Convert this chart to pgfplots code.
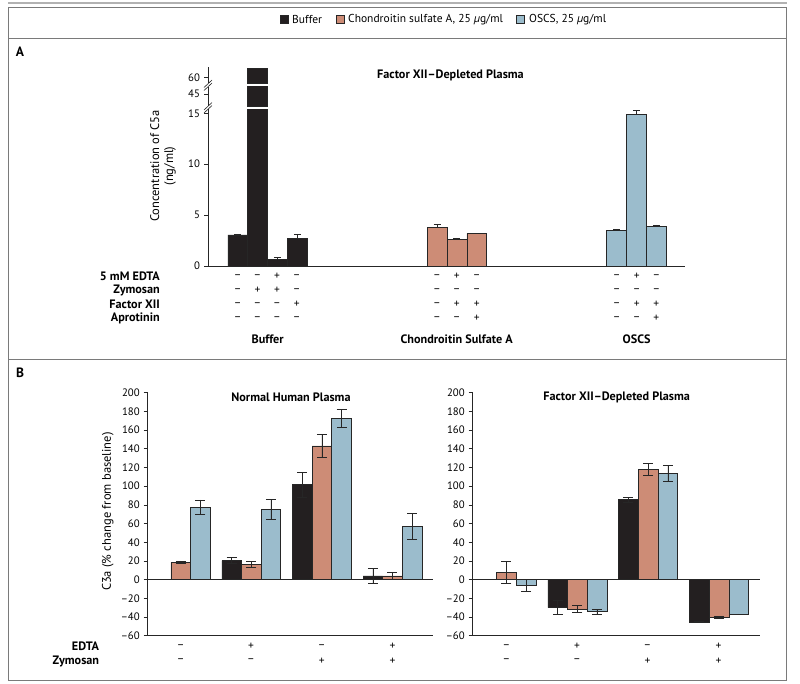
\documentclass[border=0pt]{standalone}
\usepackage{pgfplots}
\pgfplotsset{compat=1.18}
\usepackage{fontspec}
\setmainfont{PT Sans}
\definecolor{bufc}{HTML}{231F20}
\definecolor{csac}{HTML}{CD8C76}
\definecolor{oscc}{HTML}{9BBCCC}
\definecolor{framec}{HTML}{7A7A7A}
\newcommand\fs{\fontsize{11.5}{13.5}\selectfont}
\newcommand\fy{\fontsize{12.5}{14}\selectfont}
\newcommand\fb{\fontsize{12.2}{14}\selectfont\bfseries}
\pgfplotsset{
  myax/.style={scale only axis, anchor=south west,
    axis y line*=left, axis x line*=bottom, xtick=\empty, ytick pos=left,
    tick align=outside, major tick length=4pt,
    /pgf/number format/assume math mode=true,
    yticklabel style={font=\fontsize{10.8}{12}\selectfont, black, xshift=-0.5pt},
    axis line style={line width=0.6pt, black!85},
    major tick style={line width=0.6pt, black!85},
    every axis plot/.append style={draw=black!85, line width=0.5pt},
  },
  errA/.style={error bars/.cd, y dir=plus, y explicit,
    error bar style={line width=0.6pt, black!85},
    error mark options={rotate=90, mark size=3.5pt, line width=0.6pt, black!85}},
  errB/.style={error bars/.cd, y dir=both, y explicit,
    error bar style={line width=0.6pt, black!85},
    error mark options={rotate=90, mark size=5pt, line width=0.6pt, black!85}},
}
\begin{document}
\begin{tikzpicture}
\useasboundingbox (0,0) rectangle (800pt,-683pt);
% ---------------- Panel A: lower segment ----------------
\begin{axis}[myax, at={(208pt,-266pt)}, width=477pt, height=157pt,
  xmin=0, xmax=24.05, ymin=0, ymax=15.42, ytick={0,5,10,15}]
\addplot[ybar, bar shift=0pt, bar width=1, fill=bufc, errA] coordinates {
  (1.5,3.05) +- (0,0.08) (2.5,60.9) +- (0,0) (3.5,0.66) +- (0,0.16) (4.5,2.72) +- (0,0.35)};
\addplot[ybar, bar shift=0pt, bar width=1, fill=csac, errA] coordinates {
  (11.55,3.8) +- (0,0.3) (12.55,2.65) +- (0,0.12) (13.55,3.2) +- (0,0.03)};
\addplot[ybar, bar shift=0pt, bar width=1, fill=oscc, errA] coordinates {
  (20.6,3.5) +- (0,0.08) (21.6,14.87) +- (0,0.4) (22.6,3.92) +- (0,0.12)};
\end{axis}
% ---------------- Panel A: middle segment ----------------
\begin{axis}[myax, axis x line=none, at={(208pt,-106pt)}, width=477pt, height=19.3pt,
  xmin=0, xmax=24.05, ymin=43.82, ymax=45.72, ytick={45}]
\addplot[ybar, bar shift=0pt, bar width=1, fill=bufc] coordinates {(2.5,60.9)};
\end{axis}
% ---------------- Panel A: top segment ----------------
\begin{axis}[myax, axis x line=none, at={(208pt,-83.3pt)}, width=477pt, height=16.6pt,
  xmin=0, xmax=24.05, ymin=59.41, ymax=61.04, ytick={60}]
\addplot[ybar, bar shift=0pt, bar width=1, fill=bufc] coordinates {(2.5,60.9)};
\end{axis}
% break marks
\draw[black!85, line width=0.6pt] (204pt,-110pt) -- (212pt,-102.5pt);
\draw[black!85, line width=0.6pt] (204pt,-113pt) -- (212pt,-105.5pt);
\draw[black!85, line width=0.6pt] (204pt,-87.5pt) -- (212pt,-80pt);
\draw[black!85, line width=0.6pt] (204pt,-90.5pt) -- (212pt,-83pt);

% ---------------- Panel B: Normal Human Plasma ----------------
\begin{axis}[myax, at={(147.7pt,-635.7pt)}, width=285.3pt, height=243pt,
  xmin=-0.467, xmax=3.574, ymin=-60, ymax=200, ytick={-60,-40,...,200},
  yticklabels={--60,--40,--20,0,20,40,60,80,100,120,140,160,180,200}]
\addplot[ybar, bar shift=0pt, bar width=0.278, fill=bufc, errB] coordinates {
  (0.722,20.3) +- (0,3.2) (1.722,101.6) +- (0,13.2) (2.722,3.9) +- (0,8)};
\addplot[ybar, bar shift=0pt, bar width=0.278, fill=csac, errB] coordinates {
  (0,18.5) +- (0,1.5) (1,16) +- (0,3.2) (2,143) +- (0,12) (3,4) +- (0,3.5)};
\addplot[ybar, bar shift=0pt, bar width=0.278, fill=oscc, errB] coordinates {
  (0.278,77.7) +- (0,7.7) (1.278,75.2) +- (0,10.3) (2.278,172.2) +- (0,9.7) (3.278,57) +- (0,13.7)};
\draw[black!85, line width=0.6pt] (axis cs:-0.467,0) -- (axis cs:3.574,0);
\end{axis}
% ---------------- Panel B: Factor XII-depleted ----------------
\begin{axis}[myax, at={(472.7pt,-635.7pt)}, width=287.3pt, height=243pt,
  xmin=-0.477, xmax=3.58, ymin=-60, ymax=200, ytick={-60,-40,...,200},
  yticklabels={--60,--40,--20,0,20,40,60,80,100,120,140,160,180,200}]
\addplot[ybar, bar shift=0pt, bar width=0.278, fill=bufc, errB] coordinates {
  (0.722,-30) +- (0,7.5) (1.722,85.6) +- (0,2.8) (2.722,-45.3) +- (0,0.3)};
\addplot[ybar, bar shift=0pt, bar width=0.278, fill=csac, errB] coordinates {
  (0,7.8) +- (0,12) (1,-31.4) +- (0,4) (2,117.7) +- (0,6.4) (3,-40) +- (0,1)};
\addplot[ybar, bar shift=0pt, bar width=0.278, fill=oscc, errB] coordinates {
  (0.278,-6.4) +- (0,6.4) (1.278,-34.2) +- (0,2.7) (2.278,113.4) +- (0,8.5) (3.278,-37.1) +- (0,0.4)};
\draw[black!85, line width=0.6pt] (axis cs:-0.477,0) -- (axis cs:3.58,0);
\end{axis}

% ---------------- frame ----------------
\draw[line width=2.4pt, black!30] (8pt,-3pt) -- (787pt,-3pt);
\draw[framec, line width=1pt] (8pt,-7.3pt) rectangle (786.7pt,-680.7pt);
\draw[framec, line width=1pt] (8pt,-38pt) -- (786.7pt,-38pt);
\draw[framec, line width=1pt] (8pt,-359pt) -- (786.7pt,-359pt);

% ---------------- legend ----------------
\filldraw[fill=bufc, draw=black!85, line width=0.4pt] (280pt,-15.3pt) rectangle (288pt,-23.3pt);
\node[anchor=west, inner sep=0pt, font=\fs] at (292pt,-19.3pt) {Buffer};
\filldraw[fill=csac, draw=black!85, line width=0.4pt] (336pt,-15.3pt) rectangle (344pt,-23.3pt);
\node[anchor=west, inner sep=0pt, font=\fs] at (348pt,-19.3pt) {Chondroitin sulfate A, 25 \textit{µ}g/ml};
\filldraw[fill=oscc, draw=black!85, line width=0.4pt] (516pt,-15.3pt) rectangle (524pt,-23.3pt);
\node[anchor=west, inner sep=0pt, font=\fs] at (529pt,-19.3pt) {OSCS, 25 \textit{µ}g/ml};

% ---------------- panel labels & titles ----------------
\node[font=\fontsize{13.5}{15}\selectfont\bfseries] at (20pt,-51.7pt) {A};
\node[font=\fontsize{13.5}{15}\selectfont\bfseries] at (20pt,-372.3pt) {B};
\node[font=\fb] at (450.5pt,-75pt) {Factor XII–Depleted Plasma};
\node[font=\fb] at (291pt,-397.7pt) {Normal Human Plasma};
\node[font=\fb] at (616.7pt,-397.7pt) {Factor XII–Depleted Plasma};
\node[font=\fy, rotate=90, align=center] at (163pt,-166pt) {Concentration of C5a\\(ng/ml)};
\node[font=\fy, rotate=90] at (107.7pt,-511.7pt) {C3a (\% change from baseline)};

% ---------------- Panel A row table ----------------
\foreach \lab/\yy in {5 mM EDTA/276.7, Zymosan/290.7, Factor XII/304.3, Aprotinin/318.7}
  \node[anchor=east, font=\fb, inner sep=0pt] at (160pt,-\yy pt) {\lab};
\foreach \xx/\a/\b/\c/\d in {237.7/–/–/–/–, 257.5/–/+/–/–, 277/+/+/–/–, 296.7/–/–/+/–,
   437/–/–/–/–, 456.7/+/–/+/–, 476.7/–/–/+/+,
   616.7/–/–/–/–, 636.7/+/–/+/–, 656.3/–/–/+/+}{
  \node[font=\fs] at (\xx pt,-276.7pt) {\a};
  \node[font=\fs] at (\xx pt,-290.7pt) {\b};
  \node[font=\fs] at (\xx pt,-304.3pt) {\c};
  \node[font=\fs] at (\xx pt,-318.7pt) {\d};
}
\node[font=\fb] at (267.7pt,-339.3pt) {Buffer};
\node[font=\fb] at (456.7pt,-339.3pt) {Chondroitin Sulfate A};
\node[font=\fb] at (636.7pt,-339.3pt) {OSCS};

% ---------------- Panel B row table ----------------
\node[anchor=east, font=\fb, inner sep=0pt] at (99.3pt,-646.7pt) {EDTA};
\node[anchor=east, font=\fb, inner sep=0pt] at (99.3pt,-661pt) {Zymosan};
\foreach \xx/\a/\b in {180.7/–/–, 251/+/–, 321.7/–/+, 392.5/+/+,
   506.5/–/–, 577/+/–, 647.5/–/+, 718.5/+/+}{
  \node[font=\fs] at (\xx pt,-646.7pt) {\a};
  \node[font=\fs] at (\xx pt,-661pt) {\b};
}
\end{tikzpicture}
\end{document}
